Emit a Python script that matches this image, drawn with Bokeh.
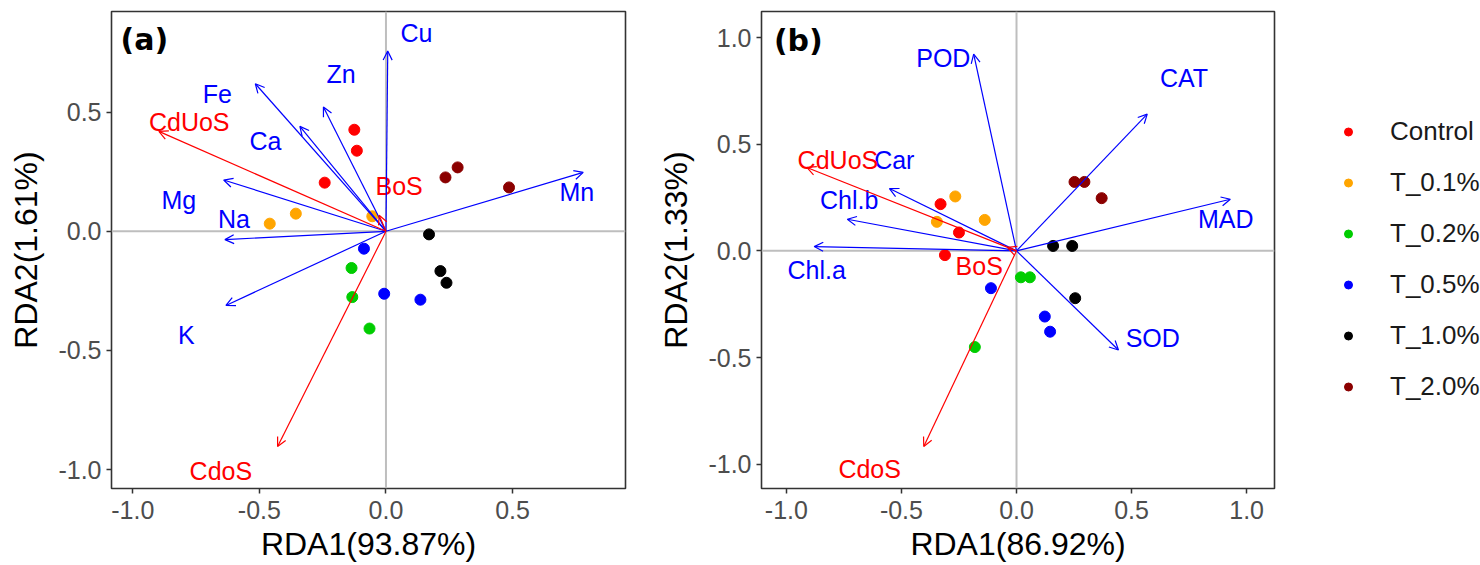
import numpy as np
from bokeh.plotting import figure
from bokeh.models import (Arrow, OpenHead, ColumnDataSource, Span, FixedTicker,
                          NumeralTickFormatter, Range1d, Legend, LegendItem, Label)
from bokeh.layouts import row
from bokeh.embed import file_html
from bokeh.resources import INLINE
from bokeh.core.properties import value

FONT = "Liberation Sans"

# ---------------- data ----------------
groups = ["Control", "T_0.1%", "T_0.2%", "T_0.5%", "T_1.0%", "T_2.0%"]
group_colors = ["#FF0000", "#FFA500", "#00CD00", "#0000FF", "#000000", "#8B0000"]
sample_group = ["Control"] * 3 + ["T_0.1%"] * 3 + ["T_0.2%"] * 3 + \
               ["T_0.5%"] * 3 + ["T_1.0%"] * 3 + ["T_2.0%"] * 3

# panel (a) sample scores
a_rda1 = [-0.125, -0.115, -0.242,
          -0.459, -0.356, -0.054,
          -0.136, -0.133, -0.065,
          -0.087, -0.007, 0.136,
          0.170, 0.215, 0.239,
          0.235, 0.283, 0.486]
a_rda2 = [0.426, 0.338, 0.204,
          0.032, 0.074, 0.063,
          -0.154, -0.276, -0.408,
          -0.073, -0.262, -0.287,
          -0.013, -0.167, -0.216,
          0.226, 0.268, 0.184]

# panel (a) response arrows (blue)
a_var_names = ["Cu", "Zn", "Fe", "Ca", "Mg", "Na", "K", "Mn"]
a_var_x = [0.007, -0.247, -0.516, -0.340, -0.641, -0.636, -0.632, 0.779]
a_var_y = [0.756, 0.521, 0.619, 0.440, 0.215, -0.035, -0.311, 0.247]
a_var_lx = [0.120, -0.177, -0.666, -0.476, -0.818, -0.600, -0.788, 0.754]
a_var_ly = [0.830, 0.661, 0.577, 0.380, 0.133, 0.050, -0.437, 0.166]

# panel (a) explanatory arrows (red)
a_env_names = ["CdUoS", "BoS", "CdoS"]
a_env_x = [-0.897, -0.027, -0.428]
a_env_y = [0.419, 0.067, -0.903]
a_env_lx = [-0.777, 0.052, -0.652]
a_env_ly = [0.460, 0.190, -1.007]

# panel (b) sample scores
b_rda1 = [-0.330, -0.250, -0.311,
          -0.266, -0.346, -0.138,
          0.019, 0.058, -0.181,
          -0.111, 0.123, 0.146,
          0.159, 0.242, 0.255,
          0.252, 0.295, 0.370]
b_rda2 = [0.219, 0.086, -0.020,
          0.255, 0.136, 0.145,
          -0.124, -0.124, -0.451,
          -0.175, -0.308, -0.379,
          0.023, 0.023, -0.222,
          0.323, 0.323, 0.247]

# panel (b) response arrows (blue)
b_var_names = ["POD", "CAT", "Car", "Chl.b", "Chl.a", "MAD", "SOD"]
b_var_x = [-0.186, 0.568, -0.552, -0.735, -0.879, 0.929, 0.443]
b_var_y = [0.922, 0.641, 0.292, 0.148, 0.020, 0.242, -0.465]
b_var_lx = [-0.318, 0.728, -0.531, -0.727, -0.868, 0.909, 0.592]
b_var_ly = [0.906, 0.808, 0.427, 0.239, -0.088, 0.148, -0.407]

# panel (b) explanatory arrows (red)
b_env_names = ["CdUoS", "BoS", "CdoS"]
b_env_x = [-0.911, -0.040, -0.403]
b_env_y = [0.391, 0.016, -0.917]
b_env_lx = [-0.776, -0.162, -0.638]
b_env_ly = [0.427, -0.072, -1.024]

a_ticks_x = [-1.0, -0.5, 0.0, 0.5]
a_ticks_y = [-1.0, -0.5, 0.0, 0.5]
b_ticks_x = [-1.0, -0.5, 0.0, 0.5, 1.0]
b_ticks_y = [-1.0, -0.5, 0.0, 0.5, 1.0]

a_xtitle, a_ytitle = "RDA1(93.87%)", "RDA2(1.61%)"
b_xtitle, b_ytitle = "RDA1(86.92%)", "RDA2(1.33%)"

BLUE = "#0000FF"
RED = "#FF0000"

TOP = 11
BOTTOM = 77


def make_panel(xr, yr, xticks, yticks, xtitle, ytitle, tag, tag_xy,
               rda1, rda2, var, env, frame_w, left_border, right_border):
    p = figure(frame_width=frame_w, frame_height=477,
               x_range=Range1d(*xr), y_range=Range1d(*yr),
               output_backend="svg", toolbar_location=None,
               min_border_left=left_border, min_border_right=right_border,
               min_border_top=TOP, min_border_bottom=BOTTOM)
    p.xgrid.visible = False
    p.ygrid.visible = False
    p.background_fill_color = "white"
    p.border_fill_color = "white"
    p.outline_line_color = "#333333"
    p.outline_line_width = 1.6
    p.outline_line_alpha = 1.0

    p.add_layout(Span(location=0, dimension="width", line_color="#BEBEBE",
                      line_width=2, level="underlay"))
    p.add_layout(Span(location=0, dimension="height", line_color="#BEBEBE",
                      line_width=2, level="underlay"))

    for g, c in zip(groups, group_colors):
        idx = [i for i, s in enumerate(sample_group) if s == g]
        p.scatter(x=[rda1[i] for i in idx], y=[rda2[i] for i in idx],
                  size=11, fill_color=c, line_color=c)

    for (names, xs, ys, lxs, lys), col in ((var, BLUE), (env, RED)):
        n = len(xs)
        src = ColumnDataSource(dict(x0=np.zeros(n), y0=np.zeros(n),
                                    x1=xs, y1=ys))
        p.add_layout(Arrow(end=OpenHead(size=9, line_color=col, line_width=1.2),
                           x_start="x0", y_start="y0", x_end="x1", y_end="y1",
                           line_color=col, line_width=1.2, source=src))
        p.text(x=lxs, y=lys, text=names, text_color=col,
               text_font=value(FONT), text_font_size="25px",
               text_align="center", text_baseline="middle")

    p.add_layout(Label(x=tag_xy[0], y=tag_xy[1], text=tag, text_font="DejaVu Sans",
                       text_font_size="30px", text_font_style="bold",
                       text_color="black", text_align="center",
                       text_baseline="middle"))

    p.xaxis.ticker = FixedTicker(ticks=xticks)
    p.yaxis.ticker = FixedTicker(ticks=yticks)
    for ax in (p.xaxis[0], p.yaxis[0]):
        ax.formatter = NumeralTickFormatter(format="0.0")
        ax.major_label_text_font = FONT
        ax.major_label_text_font_size = "25px"
        ax.major_label_text_color = "#4D4D4D"
        ax.axis_label_text_font = FONT
        ax.axis_label_text_font_size = "32px"
        ax.axis_label_text_font_style = "normal"
        ax.axis_label_text_color = "black"
        ax.major_tick_out = 5
        ax.major_tick_in = 0
        ax.major_tick_line_color = "#333333"
        ax.major_tick_line_width = 1.5
        ax.minor_tick_line_color = None
        ax.axis_line_color = None
    p.xaxis.axis_label = xtitle
    p.yaxis.axis_label = ytitle
    p.xaxis.major_label_standoff = 7
    p.xaxis.axis_label_standoff = 4
    p.yaxis.major_label_standoff = 5
    p.yaxis.axis_label_standoff = 11
    return p


pa = make_panel((-1.084, 0.946), (-1.079, 0.922), a_ticks_x, a_ticks_y,
                a_xtitle, a_ytitle, "(a)", (-0.954, 0.804), a_rda1, a_rda2,
                (a_var_names, a_var_x, a_var_y, a_var_lx, a_var_ly),
                (a_env_names, a_env_x, a_env_y, a_env_lx, a_env_ly),
                514, 111, 30)
pb = make_panel((-1.108, 1.121), (-1.114, 1.122), b_ticks_x, b_ticks_y,
                b_xtitle, b_ytitle, "(b)", (-0.948, 0.984), b_rda1, b_rda2,
                (b_var_names, b_var_x, b_var_y, b_var_lx, b_var_ly),
                (b_env_names, b_env_x, b_env_y, b_env_lx, b_env_ly),
                513, 103, 50)

# legend panel (points kept outside its visible range; only the legend shows)
pl = figure(frame_width=159, frame_height=TOP + 477 + BOTTOM,
            x_range=Range1d(100, 101), y_range=Range1d(100, 101),
            output_backend="svg", toolbar_location=None,
            min_border_left=0, min_border_right=0, min_border_top=0,
            min_border_bottom=0)
pl.axis.visible = False
pl.xgrid.visible = False
pl.ygrid.visible = False
pl.outline_line_color = None
items = []
for g, c in zip(groups, group_colors):
    idx = [i for i, s in enumerate(sample_group) if s == g]
    r = pl.scatter(x=[b_rda1[i] for i in idx], y=[b_rda2[i] for i in idx],
                   size=11, fill_color=c, line_color=c)
    items.append(LegendItem(label=g, renderers=[r]))
leg = Legend(items=items, location=(14, 153), padding=0, margin=0, spacing=0,
             glyph_width=20, glyph_height=51, label_height=51,
             label_standoff=32, label_text_font=FONT,
             label_text_font_size="26px", label_text_color="#1A1A1A",
             border_line_color=None, background_fill_alpha=0)
pl.add_layout(leg)

layout = row(pa, pb, pl)
open("out.html", "w").write(file_html(layout, INLINE))
